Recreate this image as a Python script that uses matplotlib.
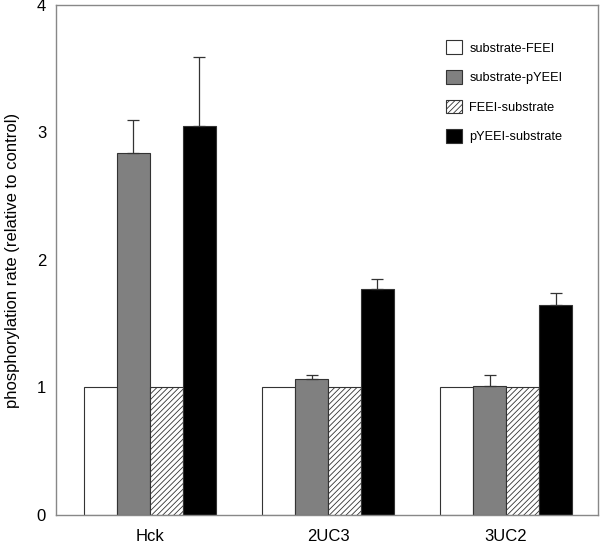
import matplotlib
matplotlib.use("Agg")
from matplotlib import pyplot as plt
import numpy as np

plt.rcParams['font.family'] = ['Liberation Sans', 'DejaVu Sans']
plt.rcParams['hatch.color'] = '#777777'
plt.rcParams['hatch.linewidth'] = 0.6

groups = ["Hck", "2UC3", "3UC2"]
series = ["substrate-FEEI", "substrate-pYEEI", "FEEI-substrate", "pYEEI-substrate"]
values = [
    [1.0, 1.0, 1.0],
    [2.84, 1.07, 1.01],
    [1.0, 1.0, 1.0],
    [3.05, 1.77, 1.65],
]
errors = [
    [0, 0, 0],
    [0.26, 0.03, 0.09],
    [0, 0, 0],
    [0.54, 0.08, 0.09],
]

fills = ["white", "#808080", "white", "black"]
hatches = [None, None, "//////", None]

fig = plt.figure(figsize=(6, 5.45), dpi=100)
ax = fig.add_axes([0.093, 0.055, 0.904, 0.936])

x = np.arange(len(groups))
w = 0.185
for i in range(4):
    err = errors[i]
    ax.bar(x + (i - 1.5) * w, values[i], w, color=fills[i], edgecolor='#333333',
           linewidth=0.8, hatch=hatches[i], label=series[i],
           yerr=[[0] * 3, err] if any(err) else None,
           error_kw=dict(ecolor='#333333', elinewidth=0.9, capsize=4, capthick=0.9))

ax.set_xlim(-0.528, 2.517)
ax.set_ylim(0, 4)
ax.set_yticks([0, 1, 2, 3, 4])
ax.set_xticks(x)
ax.set_xticklabels(groups, fontsize=12)
ax.tick_params(axis='both', length=0, labelsize=12)
ax.tick_params(axis='x', pad=10)
ax.tick_params(axis='y', pad=7)
for s in ax.spines.values():
    s.set_color('#888888')
    s.set_linewidth(1.0)
ax.set_ylabel("phosphorylation rate (relative to control)", fontsize=12, labelpad=12)

ax.legend(loc='upper right', bbox_to_anchor=(0.955, 0.953), frameon=False, fontsize=9.2,
          handlelength=1.25, handleheight=1.3, handletextpad=0.6, labelspacing=1.2)

fig.savefig("out.png", dpi=100)
